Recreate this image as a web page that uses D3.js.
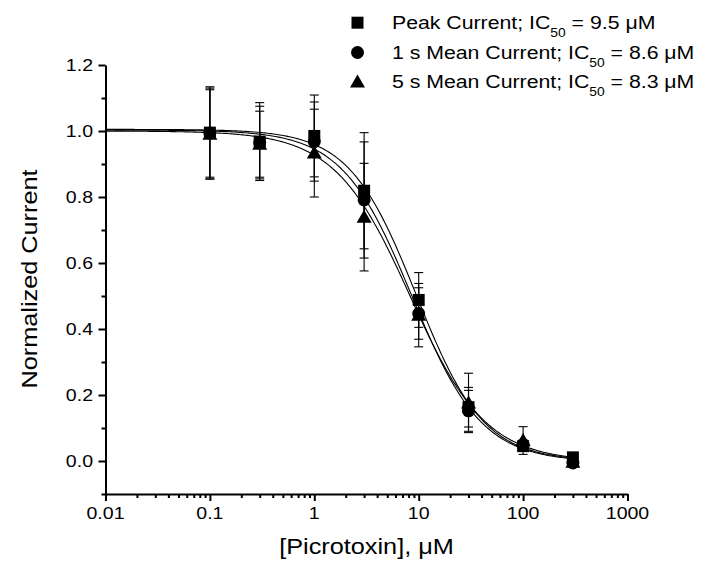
<!DOCTYPE html>
<html><head><meta charset="utf-8">
<script src="https://cdn.jsdelivr.net/npm/d3@7"></script>
<style>
body{margin:0;background:#fff}
svg text{font-family:Arial,"Liberation Sans",sans-serif;fill:#000}
</style>
</head><body>
<svg id="chart" width="709" height="563"></svg>
<script>
// ---- data ----
const concentrations = [0.1, 0.3, 1, 3, 10, 30, 100, 300];
const peakMean = [0.995, 0.968, 0.985, 0.819, 0.488, 0.163, 0.045, 0.011];
const peakSD   = [0.135, 0.118, 0.124, 0.176, 0.083, 0.060, 0.015, 0.010];
const mean1s   = [0.994, 0.965, 0.968, 0.791, 0.447, 0.152, 0.048, -0.006];
const sd1s     = [0.140, 0.110, 0.120, 0.176, 0.078, 0.062, 0.016, 0.010];
const mean5s   = [0.990, 0.960, 0.933, 0.739, 0.442, 0.176, 0.062, -0.004];
const sd5s     = [0.135, 0.100, 0.133, 0.163, 0.096, 0.090, 0.042, 0.010];
const seriesNames = ["Peak Current; IC", "1 s Mean Current; IC", "5 s Mean Current; IC"];
const ic50Labels = ["9.5", "8.6", "8.3"];
const markerShapes = ["square", "circle", "triangle"];
// fitted Hill curves (parameters from legend / picture)
const fitIC50 = [9.5, 8.6, 8.3];
const fitHill = [1.35, 1.3, 1.2];
const fitTop = [1.005, 1.003, 1.0];
const fitBottom = [0.0, -0.003, -0.002];
const fitRange = [0.01, 300];
const xTickValues = [0.01, 0.1, 1, 10, 100, 1000];
const xTickLabels = ["0.01", "0.1", "1", "10", "100", "1000"];
const yTickValues = [0, 0.2, 0.4, 0.6, 0.8, 1.0, 1.2];
const yMinorTicks = [-0.1, 0.1, 0.3, 0.5, 0.7, 0.9, 1.1];

const svg = d3.select("#chart");
const x = d3.scaleLog().domain([0.01, 1000]).range([105.5, 627.5]);
const y = d3.scaleLinear().domain([-0.1, 1.2]).range([494, 65]);
const SX = 1.15;

function placeText(sel, px, py, rot) {
  sel.attr("x", 0).attr("y", 0)
     .attr("transform", `translate(${px},${py})` + (rot ? ` rotate(${rot})` : "") + ` scale(${SX},1)`);
  return sel;
}

// minor x ticks
const xMinor = [];
for (let e = -2; e < 3; e++) for (let k = 2; k <= 9; k++) xMinor.push(k * Math.pow(10, e));

// axes
const gx = svg.append("g").attr("transform", "translate(0,494)");
gx.call(d3.axisBottom(x).tickValues(xMinor).tickSize(4).tickSizeOuter(0).tickFormat(""));
gx.call(g => g.select(".domain").remove());
const gx2 = svg.append("g").attr("transform", "translate(0,494)");
gx2.call(d3.axisBottom(x).tickValues(xTickValues).tickSize(7).tickSizeOuter(0).tickFormat(""));
const gy = svg.append("g").attr("transform", "translate(105.5,0)");
gy.call(d3.axisLeft(y).tickValues(yMinorTicks).tickSize(4).tickSizeOuter(0).tickFormat(""));
gy.call(g => g.select(".domain").remove());
const gy2 = svg.append("g").attr("transform", "translate(105.5,0)");
gy2.call(d3.axisLeft(y).tickValues(yTickValues).tickSize(7).tickSizeOuter(0).tickFormat(""));
svg.selectAll(".domain").attr("stroke", "#000").attr("stroke-width", 2);
svg.selectAll(".tick line").attr("stroke", "#000").attr("stroke-width", 2);

// tick labels
xTickValues.forEach((v, i) => {
  placeText(svg.append("text").attr("text-anchor", "middle").attr("font-size", 17).text(xTickLabels[i]), x(v), 519);
});
yTickValues.forEach(v => {
  placeText(svg.append("text").attr("text-anchor", "end").attr("font-size", 17).text(d3.format(".1f")(v)), 93, y(v) + 6);
});

// axis titles
const xt = placeText(svg.append("text").attr("text-anchor", "middle").attr("font-size", 22), (105.5 + 627.5) / 2, 554);
xt.append("tspan").text("[Picrotoxin], ");
xt.append("tspan").text("μM");
placeText(svg.append("text").attr("text-anchor", "middle").attr("font-size", 22).text("Normalized Current"), 37, 279, -90);

// series
const series = [
  {mean: peakMean, sd: peakSD},
  {mean: mean1s, sd: sd1s},
  {mean: mean5s, sd: sd5s}
];

function markerPath(shape) {
  if (shape === "square") return "M-6,-6H6V6H-6Z";
  if (shape === "circle") return d3.arc()({innerRadius: 0, outerRadius: 6.5, startAngle: 0, endAngle: 2 * Math.PI});
  return "M0,-7.5L7.5,5.5L-7.5,5.5Z";
}

// fitted curves
const line = d3.line().x(d => x(d[0])).y(d => y(d[1]));
const lx0 = Math.log10(fitRange[0]), lx1 = Math.log10(fitRange[1]);
fitIC50.forEach((ic, i) => {
  const pts = d3.range(0, 301).map(j => {
    const c = Math.pow(10, lx0 + (lx1 - lx0) * j / 300);
    return [c, fitBottom[i] + (fitTop[i] - fitBottom[i]) / (1 + Math.pow(c / ic, fitHill[i]))];
  });
  svg.append("path").attr("d", line(pts)).attr("fill", "none").attr("stroke", "#000").attr("stroke-width", 1.1);
});

// error bars
series.forEach(s => {
  const g = svg.append("g").attr("stroke", "#000").attr("stroke-width", 1.1);
  concentrations.forEach((c, i) => {
    const cx = x(c), top = y(s.mean[i] + s.sd[i]), bot = y(s.mean[i] - s.sd[i]);
    g.append("line").attr("x1", cx).attr("x2", cx).attr("y1", top).attr("y2", bot);
    g.append("line").attr("x1", cx - 4.5).attr("x2", cx + 4.5).attr("y1", top).attr("y2", top);
    g.append("line").attr("x1", cx - 4.5).attr("x2", cx + 4.5).attr("y1", bot).attr("y2", bot);
  });
});

// markers
series.forEach((s, si) => {
  svg.append("g").selectAll("path").data(concentrations).join("path")
    .attr("d", markerPath(markerShapes[si]))
    .attr("transform", (c, i) => `translate(${x(c)},${y(s.mean[i])})`)
    .attr("fill", "#000");
});

// legend
const legendRowY = [22.7, 52.5, 82];
seriesNames.forEach((name, i) => {
  svg.append("path").attr("d", markerPath(markerShapes[i])).attr("fill", "#000")
    .attr("transform", `translate(357.5,${legendRowY[i]})`);
  const t = placeText(svg.append("text").attr("font-size", 18.5), 392, legendRowY[i] + 6);
  t.append("tspan").text(name);
  t.append("tspan").attr("font-size", 12).attr("dy", 8).text("50");
  t.append("tspan").attr("dy", -8).text(" = " + ic50Labels[i] + " ");
  t.append("tspan").text("μM");
});
</script>
</body></html>
